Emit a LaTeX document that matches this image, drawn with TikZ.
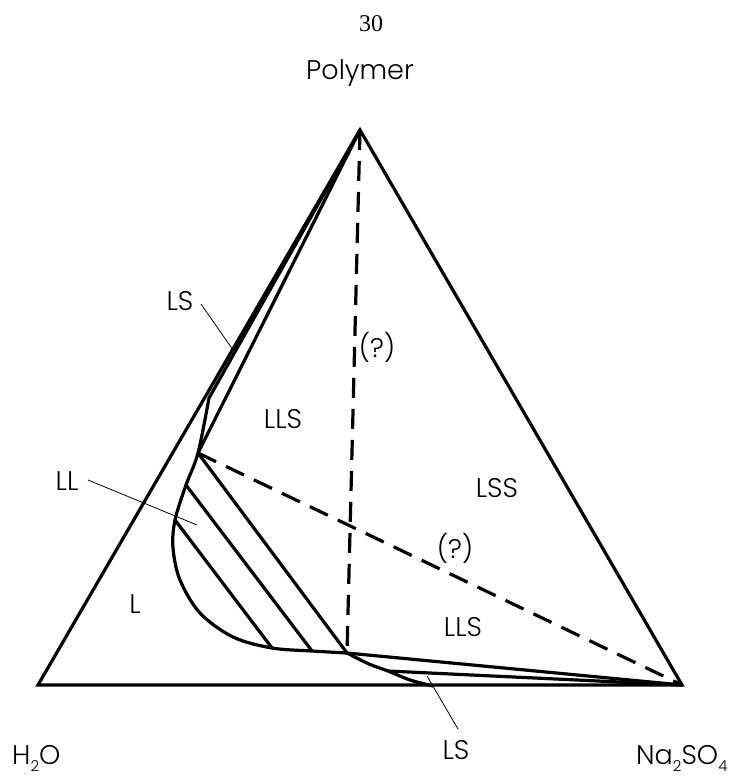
\documentclass[tikz,border=0pt]{standalone}
\usepackage{fontspec}
\setmainfont{Poppins Light}
\newfontfamily\serifnum{Liberation Serif}
\newcommand{\chemsub}[1]{\raisebox{-0.28em}{\fontsize{15}{15}\selectfont #1}}
\begin{document}
\begin{tikzpicture}[x=1pt,y=-1pt,
  edge/.style={line width=3.2pt, line join=miter},
  curveline/.style={line width=3.2pt, line join=round},
  dashline/.style={line width=3.2pt, dash pattern=on 20pt off 11pt},
  leader/.style={line width=0.8pt},
  lbl/.style={font=\fontsize{27}{29}\selectfont, inner sep=0pt}]
\useasboundingbox (0,0) rectangle (735,776);
% vertices
\coordinate (W) at (38,685);
\coordinate (A) at (360,130);
\coordinate (N) at (682,685);
% key points
\coordinate (K1) at (209,398);
\coordinate (C) at (198,453);
\coordinate (K2) at (347,653);
\coordinate (T1a) at (186,485);
\coordinate (T1b) at (312,651);
\coordinate (T2a) at (175,520);
\coordinate (T2b) at (272,648);
\coordinate (P3) at (388,671);
% triangle
\draw[edge] (W) -- (A) -- (N) -- cycle;
% solubility / binodal curve
\draw[curveline] (A) -- (K1)
  plot[smooth, tension=0.55] coordinates {(209,398) (198,453) (186,485) (175,520) (173,548) (180,580) (200,613) (233,637) (272,648) (312,651) (347,653)};
\draw[curveline] plot[smooth, tension=0.5] coordinates {(347,653) (369,664) (388,671) (410,680) (433,686)};
% tie line apex - C
\draw[edge] (A) -- (C);
% tie lines in LL
\draw[edge] (C) -- (K2);
\draw[edge] (T1a) -- (T1b);
\draw[edge] (T2a) -- (T2b);
% lines to Na2SO4 vertex
\draw[edge] (K2) -- (N);
\draw[edge] (P3) -- (N);
% dashed lines
\draw[dashline] (A) -- (K2);
\draw[dashline] (C) -- (N);
% leaders
\coordinate (lsA) at (201,304);
\coordinate (lsB) at (233,350);
\draw[leader] (lsA) -- (lsB);
\coordinate (llA) at (88,480);
\coordinate (llB) at (197,525);
\draw[leader] (llA) -- (llB);
\coordinate (lsC) at (427,676);
\coordinate (lsD) at (458,729);
\draw[leader] (lsC) -- (lsD);
% texts
\node[font=\serifnum\fontsize{24}{26}\selectfont, inner sep=0pt] (pg) at (371,24) {30};
\node[lbl, anchor=base] (poly) at (360,80) {Polymer};
\node[lbl, anchor=base west] (h2o) at (12,764) {H\chemsub{2}O};
\node[lbl, anchor=base west] (na) at (636,764) {Na\chemsub{2}SO\chemsub{4}};
\node[lbl] (ls1) at (180,301) {LS};
\node[lbl] (lls1) at (283,419) {LLS};
\node[lbl] (q1) at (377,347) {(?)};
\node[lbl] (ll) at (67,481) {LL};
\node[lbl] (lss) at (497,488) {LSS};
\node[lbl] (q2) at (455,548) {(?)};
\node[lbl] (l) at (135,604) {L};
\node[lbl] (lls2) at (463,627) {LLS};
\node[lbl] (ls2) at (456,750) {LS};
\end{tikzpicture}
\end{document}
